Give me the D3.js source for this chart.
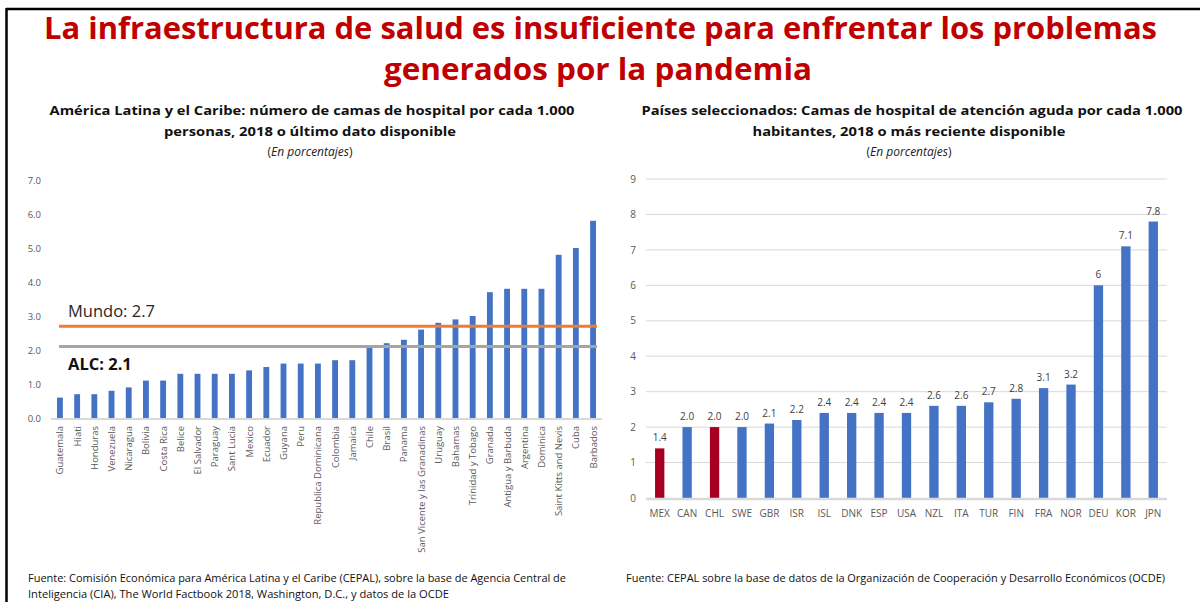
<!DOCTYPE html>
<html>
<head>
<meta charset="utf-8">
<script src="https://cdn.jsdelivr.net/npm/d3@7"></script>
<style>
  body { margin: 0; background: #fff; }
  svg { display: block; font-family: 'Open Sans', sans-serif; }
</style>
</head>
<body>
<svg id="viz_area" width="1200" height="602"></svg>
<script>
// left chart: camas por cada 1.000 personas
const latamCountries = ['Guatemala', 'Hiati', 'Honduras', 'Venezuela', 'Nicaragua', 'Bolivia', 'Costa Rica', 'Belice',
	'El Salvador', 'Paraguay', 'Sant Lucia', 'Mexico', 'Ecuador', 'Guyana', 'Peru', 'Republica Dominicana', 'Colombia',
	'Jamaica', 'Chile', 'Brasil', 'Panama', 'San Vicente y las Granadinas', 'Uruguay', 'Bahamas', 'Trinidad y Tobago',
	'Granada', 'Antigua y Barbuda', 'Argentina', 'Dominica', 'Saint Kitts and Nevis', 'Cuba', 'Barbados'];
const latamValues = [0.6, 0.7, 0.7, 0.8, 0.9, 1.1, 1.1, 1.3, 1.3, 1.3, 1.3, 1.4, 1.5, 1.6, 1.6, 1.6, 1.7, 1.7, 2.1, 2.2,
	2.3, 2.6, 2.8, 2.9, 3.0, 3.7, 3.8, 3.8, 3.8, 4.8, 5.0, 5.8];
const latamTicks = [0, 1, 2, 3, 4, 5, 6, 7];
const refLines = [
	{ label: 'Mundo: 2.7', value: 2.7 },
	{ label: 'ALC: 2.1', value: 2.1 }
];

// right chart: camas de atención aguda
const oecdCountries = ['MEX', 'CAN', 'CHL', 'SWE', 'GBR', 'ISR', 'ISL', 'DNK', 'ESP', 'USA', 'NZL', 'ITA', 'TUR', 'FIN',
	'FRA', 'NOR', 'DEU', 'KOR', 'JPN'];
const oecdValues = [1.4, 2.0, 2.0, 2.0, 2.1, 2.2, 2.4, 2.4, 2.4, 2.4, 2.6, 2.6, 2.7, 2.8, 3.1, 3.2, 6, 7.1, 7.8];
const oecdLabels = ['1.4', '2.0', '2.0', '2.0', '2.1', '2.2', '2.4', '2.4', '2.4', '2.4', '2.6', '2.6', '2.7', '2.8',
	'3.1', '3.2', '6', '7.1', '7.8'];
const highlighted = ['MEX', 'CHL'];
const oecdTicks = [0, 1, 2, 3, 4, 5, 6, 7, 8, 9];

const svg = d3.select('#viz_area');

const blue = '#4472C4';
const red = '#A50021';
const axisGray = '#d9d9d9';
const labelGray = '#595959';

// frame (top and left only)
svg.append('line').attr('x1', 6).attr('y1', 9).attr('x2', 1200).attr('y2', 9).attr('stroke', '#000').attr('stroke-width', 2.5);
svg.append('line').attr('x1', 6.5).attr('y1', 8).attr('x2', 6.5).attr('y2', 602).attr('stroke', '#000').attr('stroke-width', 2.5);

// helper for fitted text
function fitText(x, y, str, width, opts) {
	let t = svg
		.append('text')
		.attr('x', x)
		.attr('y', y)
		.attr('text-anchor', opts.anchor || 'middle')
		.attr('textLength', width)
		.attr('lengthAdjust', 'spacingAndGlyphs')
		.style('font-size', opts.size + 'px')
		.style('font-weight', opts.weight || 'normal')
		.style('font-style', opts.style || 'normal')
		.style('fill', opts.color || '#000')
		.text(str);
	return t;
}

// main title
fitText(600.5, 39, 'La infraestructura de salud es insuficiente para enfrentar los problemas', 1113, { size: 30, weight: 'bold', color: '#C00000' });
fitText(598, 80, 'generados por la pandemia', 428, { size: 30, weight: 'bold', color: '#C00000' });

// subtitles
fitText(312, 115, 'América Latina y el Caribe: número de camas de hospital por cada 1.000', 525, { size: 13, weight: 'bold', color: '#111' });
fitText(310, 136, 'personas, 2018 o último dato disponible', 292, { size: 13, weight: 'bold', color: '#111' });
let it1 = svg.append('text').attr('x', 310).attr('y', 156).attr('text-anchor', 'middle').style('font-size', '12px').style('fill', '#222');
it1.append('tspan').text('(');
it1.append('tspan').style('font-style', 'italic').text('En porcentajes');
it1.append('tspan').text(')');

fitText(912, 115, 'Países seleccionados: Camas de hospital de atención aguda por cada 1.000', 541, { size: 13, weight: 'bold', color: '#111' });
fitText(909, 136, 'habitantes, 2018 o más reciente disponible', 313, { size: 13, weight: 'bold', color: '#111' });
let it2 = svg.append('text').attr('x', 909).attr('y', 156).attr('text-anchor', 'middle').style('font-size', '12px').style('fill', '#222');
it2.append('tspan').text('(');
it2.append('tspan').style('font-style', 'italic').text('En porcentajes');
it2.append('tspan').text(')');

// footers
fitText(28, 582, 'Fuente: Comisión Económica para América Latina y el Caribe (CEPAL), sobre la base de Agencia Central de', 538, { size: 11, anchor: 'start', color: '#111' });
fitText(28, 598, 'Inteligencia (CIA), The World Factbook 2018, Washington, D.C., y datos de la OCDE', 421, { size: 11, anchor: 'start', color: '#111' });
fitText(626, 582, 'Fuente: CEPAL sobre la base de datos de la Organización de Cooperación y Desarrollo Económicos (OCDE)', 539, { size: 11, anchor: 'start', color: '#111' });

// ---------- left chart ----------
let xL = d3.scaleBand().domain(latamCountries).range([ 51, 602 ]).paddingInner(0.66).paddingOuter(0.35);
let yL = d3.scaleLinear().domain([ 0, 7 ]).range([ 418, 180 ]);

let gyL = svg
	.append('g')
	.attr('transform', 'translate(41,0)')
	.call(d3.axisLeft(yL).tickValues(latamTicks).tickFormat(d3.format('.1f')).tickSize(0).tickPadding(0));
gyL.select('.domain').remove();
gyL.selectAll('text').style('font-size', '9.5px').style('fill', labelGray).style('font-family', "'Open Sans', sans-serif");

svg
	.selectAll('.barL')
	.data(latamValues)
	.enter()
	.append('rect')
	.attr('class', 'barL')
	.attr('x', (d, i) => xL(latamCountries[i]))
	.attr('y', (d) => yL(d))
	.attr('width', xL.bandwidth())
	.attr('height', (d) => yL(0) - yL(d))
	.style('fill', blue);

svg.append('line').attr('x1', 51).attr('x2', 602).attr('y1', yL(0) + 1).attr('y2', yL(0) + 1).attr('stroke', axisGray).attr('stroke-width', 2);

// x labels rotated
svg
	.selectAll('.labL')
	.data(latamCountries)
	.enter()
	.append('text')
	.attr('class', 'labL')
	.attr('transform', (d) => 'translate(' + (xL(d) + xL.bandwidth() / 2 + 3.5) + ',426) rotate(-90)')
	.attr('text-anchor', 'end')
	.style('font-size', '9.5px')
	.style('fill', labelGray)
	.text((d) => d);

// reference lines
const refColors = [ '#ED7D31', '#A5A5A5' ];
refLines.forEach(function(r, i) {
	svg
		.append('line')
		.attr('x1', 59)
		.attr('x2', 597)
		.attr('y1', yL(r.value))
		.attr('y2', yL(r.value))
		.attr('stroke', refColors[i])
		.attr('stroke-width', 3);
});
svg.append('text').attr('x', 68).attr('y', yL(refLines[0].value) - 9).style('font-size', '16.5px').style('fill', '#262626').text(refLines[0].label);
svg.append('text').attr('x', 68).attr('y', yL(refLines[1].value) + 23).style('font-size', '16.5px').style('font-weight', 'bold').style('fill', '#111').text(refLines[1].label);

// ---------- right chart ----------
let xR = d3.scaleBand().domain(oecdCountries).range([ 646, 1167 ]).paddingInner(0.66).paddingOuter(0.33);
let yR = d3.scaleLinear().domain([ 0, 9 ]).range([ 498, 179 ]);

svg
	.selectAll('.gridR')
	.data(oecdTicks.slice(1))
	.enter()
	.append('line')
	.attr('class', 'gridR')
	.attr('x1', 646)
	.attr('x2', 1167)
	.attr('y1', (d) => yR(d))
	.attr('y2', (d) => yR(d))
	.attr('stroke', axisGray)
	.attr('stroke-width', 1);

let gyR = svg
	.append('g')
	.attr('transform', 'translate(636,0)')
	.call(d3.axisLeft(yR).tickValues(oecdTicks).tickFormat(d3.format('d')).tickSize(0).tickPadding(0));
gyR.select('.domain').remove();
gyR.selectAll('text').style('font-size', '10px').style('fill', labelGray).style('font-family', "'Open Sans', sans-serif");

svg
	.selectAll('.barR')
	.data(oecdValues)
	.enter()
	.append('rect')
	.attr('class', 'barR')
	.attr('x', (d, i) => xR(oecdCountries[i]))
	.attr('y', (d) => yR(d))
	.attr('width', xR.bandwidth())
	.attr('height', (d) => yR(0) - yR(d))
	.style('fill', (d, i) => (highlighted.includes(oecdCountries[i]) ? red : blue));

svg.append('line').attr('x1', 646).attr('x2', 1167).attr('y1', yR(0) + 1).attr('y2', yR(0) + 1).attr('stroke', axisGray).attr('stroke-width', 2.5);

svg
	.selectAll('.valR')
	.data(oecdValues)
	.enter()
	.append('text')
	.attr('class', 'valR')
	.attr('x', (d, i) => xR(oecdCountries[i]) + xR.bandwidth() / 2)
	.attr('y', (d) => yR(d) - 7)
	.attr('text-anchor', 'middle')
	.style('font-size', '10px')
	.style('fill', '#404040')
	.text((d, i) => oecdLabels[i]);

svg
	.selectAll('.labR')
	.data(oecdCountries)
	.enter()
	.append('text')
	.attr('class', 'labR')
	.attr('x', (d) => xR(d) + xR.bandwidth() / 2)
	.attr('y', 517)
	.attr('text-anchor', 'middle')
	.style('font-size', '10px')
	.style('fill', labelGray)
	.text((d) => d);
</script>
</body>
</html>
